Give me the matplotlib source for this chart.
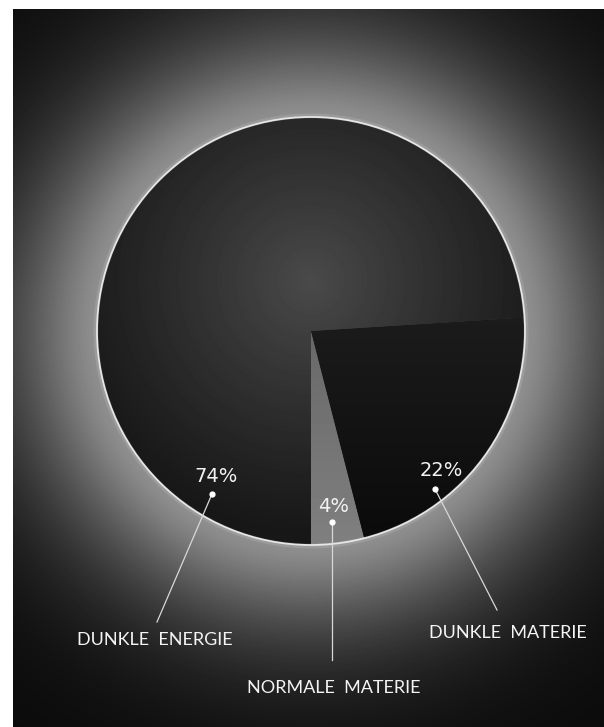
import matplotlib
matplotlib.use("Agg")
import matplotlib.pyplot as plt
from matplotlib.patches import Circle
import numpy as np

# composition of the universe, percent
components = ["NORMALE  MATERIE", "DUNKLE  MATERIE", "DUNKLE  ENERGIE"]
shares = [4, 22, 74]

W, H = 604, 727
cx, cy, R = 311, 727 - 331, 214

fig = plt.figure(figsize=(W / 100, H / 100), dpi=100, facecolor="white")
ax = fig.add_axes([0, 0, 1, 1])

# dark panel with a soft halo around the disc
x0, x1, y0, y1 = 13, W, 0, H - 9
gx, gy = np.meshgrid(np.arange(x0, x1) + 0.5, np.arange(y0, y1) + 0.5)
r = np.hypot(gx - cx, gy - cy)
halo = 0.04 + 0.52 * np.exp(-np.clip((r - R) / 100.0, 0, None) ** 1.45)
ax.imshow(halo, cmap="gray", vmin=0, vmax=1, extent=(x0, x1, y0, y1),
          origin="lower", interpolation="bilinear", zorder=0)

# the pie itself: normal matter starts at the bottom, counter-clockwise
wedges, _ = ax.pie(shares, startangle=-90, counterclock=True,
                   center=(cx, cy), radius=R,
                   colors=["#707070", "#101010", "#2a2a2a"],
                   wedgeprops=dict(linewidth=0))
for w in wedges:
    w.set_zorder(1)

# shading inside each wedge
d = np.hypot(gx - cx, gy - (cy + 50))
fills = [
    0.41 + 0.09 * np.clip((cy - gy) / R, 0, 1),
    0.04 + 0.07 * np.clip((gy - (cy - R)) / (R * 1.1), 0, 1),
    0.09 + 0.20 * np.clip(1 - d / 255.0, 0, 1) ** 1.1,
]
for w, f in zip(wedges, fills):
    im = ax.imshow(f, cmap="gray", vmin=0, vmax=1, extent=(x0, x1, y0, y1),
                   origin="lower", interpolation="bilinear", zorder=2)
    im.set_clip_path(w)

# bright rim
ax.add_patch(Circle((cx, cy), R + 1, fill=False, ec="#ffffff", lw=3.5, alpha=0.12, zorder=3))
ax.add_patch(Circle((cx, cy), R, fill=False, ec="#e6e6e6", lw=1.3, zorder=4))

# percentage text, dot, leader line and name for each slice
pct_pos = [(334, 507), (441, 470), (216, 477)]
dot_pos = [(332, 522), (435, 489), (212, 494)]
end_pos = [(332, 660), (497, 610), (157, 622)]
name_pos = [(334, 688), (508, 633), (155, 640)]

for name, v, p, dp, ep, npos in zip(components, shares, pct_pos, dot_pos, end_pos, name_pos):
    ax.text(p[0], H - p[1], f"{v}%", color="#f2f2f2", fontsize=14,
            family="DejaVu Sans", ha="center", va="center", zorder=6)
    ax.plot([dp[0], ep[0]], [H - dp[1], H - ep[1]], color="#d8d8d8", lw=0.9, zorder=5)
    ax.plot(dp[0], H - dp[1], "o", color="white", ms=4.5, mec="none", zorder=6)
    ax.text(npos[0], H - npos[1], name, color="#f4f4f4", fontsize=13,
            family="Lato", ha="center", va="center", zorder=6)

ax.set_xlim(0, W)
ax.set_ylim(0, H)
ax.set_aspect("auto")
ax.axis("off")

fig.savefig("out.png", dpi=100, facecolor="white")
